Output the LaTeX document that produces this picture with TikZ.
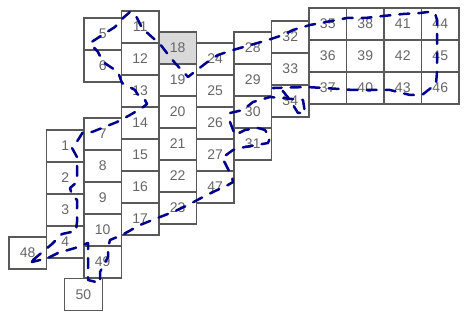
\documentclass[tikz,border=0pt]{standalone}
\usepackage{fontspec}
\setmainfont{Liberation Sans}

\begin{document}
\begin{tikzpicture}[x=1pt, y=-1pt,
    cell/.style={draw=black!65, line width=1.4pt, minimum width=37.5pt,
                 minimum height=32pt, inner sep=0pt, outer sep=0pt,
                 text=black!60, font=\fontsize{14}{16}\selectfont},
    route/.style={draw=blue!55!black, line width=2.5pt,
                  dash pattern=on 10pt off 9pt, line cap=round, line join=round}]
  \useasboundingbox (0,0) rectangle (466,323);
  % Left columns
  \node[cell] (c48) at (27.75,253) {48};
  \node[cell] (c1) at (65.25,146) {1};
  \node[cell] (c2) at (65.25,178) {2};
  \node[cell] (c3) at (65.25,210) {3};
  \node[cell] (c4) at (65.25,242) {4};
  \node[cell] (c5) at (102.75,34) {5};
  \node[cell] (c6) at (102.75,66) {6};
  \node[cell] (c7) at (102.75,134) {7};
  \node[cell] (c8) at (102.75,166) {8};
  \node[cell] (c9) at (102.75,198) {9};
  \node[cell] (c10) at (102.75,230) {10};
  \node[cell] (c49) at (102.75,262) {49};
  \node[cell] (c50) at (83.5,294.5) {50};
  % Middle columns
  \node[cell] (c11) at (140.25,27) {11};
  \node[cell] (c12) at (140.25,59) {12};
  \node[cell] (c13) at (140.25,91) {13};
  \node[cell] (c14) at (140.25,123) {14};
  \node[cell] (c15) at (140.25,155) {15};
  \node[cell] (c16) at (140.25,187) {16};
  \node[cell] (c17) at (140.25,219) {17};
  \node[cell, fill=black!15] (c18) at (177.75,48) {18};
  \node[cell] (c19) at (177.75,80) {19};
  \node[cell] (c20) at (177.75,112) {20};
  \node[cell] (c21) at (177.75,144) {21};
  \node[cell] (c22) at (177.75,176) {22};
  \node[cell] (c23) at (177.75,208) {23};
  \node[cell] (c24) at (215.25,59) {24};
  \node[cell] (c25) at (215.25,91) {25};
  \node[cell] (c26) at (215.25,123) {26};
  \node[cell] (c27) at (215.25,155) {27};
  \node[cell] (c47) at (215.25,187) {47};
  \node[cell] (c28) at (252.75,48) {28};
  \node[cell] (c29) at (252.75,80) {29};
  \node[cell] (c30) at (252.75,112) {30};
  \node[cell] (c31) at (252.75,144) {31};
  \node[cell] (c32) at (290.25,37) {32};
  \node[cell] (c33) at (290.25,69) {33};
  \node[cell] (c34) at (290.25,101) {34};
  % Right block
  \node[cell] (c35) at (327.75,24) {35};
  \node[cell] (c36) at (327.75,56) {36};
  \node[cell] (c37) at (327.75,88) {37};
  \node[cell] (c38) at (365.25,24) {38};
  \node[cell] (c39) at (365.25,56) {39};
  \node[cell] (c40) at (365.25,88) {40};
  \node[cell] (c41) at (402.75,24) {41};
  \node[cell] (c42) at (402.75,56) {42};
  \node[cell] (c43) at (402.75,88) {43};
  \node[cell] (c44) at (440.25,24) {44};
  \node[cell] (c45) at (440.25,56) {45};
  \node[cell] (c46) at (440.25,88) {46};
  % Route
  \draw[route] (33,260) -- (52,244) -- (62,234) -- (76,231) -- (77,222)
    -- (77,200) -- (72,195) -- (70,188) -- (77,182) -- (77,168) -- (77,157)
    -- (72,148) -- (78,140) -- (83,132) -- (92,132) -- (117,122) -- (130,115)
    -- (142,108) -- (147,104) -- (145,100) -- (138,95) -- (135,90)
    -- (122,83) -- (118,72) -- (103,62) -- (98,52) -- (90,43) -- (107,32)
    -- (115,27) -- (123,18) -- (130,12) -- (135,14) -- (142,28) -- (153,38)
    -- (160,44) -- (170,57) -- (175,63) -- (188,77) -- (197,70) -- (210,60)
    -- (218,55) -- (233,50) -- (268,40) -- (283,35) -- (293,30) -- (310,25)
    -- (347,18) -- (365,18) -- (383,16) -- (403,14) -- (420,13) -- (428,12)
    -- (435,13) -- (437,20) -- (437,72) -- (436,84) -- (422,95) -- (410,95)
    -- (390,90) -- (353,90) -- (340,89) -- (307,87) -- (273,88) -- (282,90)
    -- (290,100) -- (298,113) -- (305,113) -- (303,100) -- (270,97)
    -- (253,102) -- (243,110) -- (230,113) -- (230,122) -- (235,135)
    -- (245,130) -- (258,128) -- (265,130) -- (270,138) -- (268,143)
    -- (245,147) -- (233,150) -- (222,158) -- (225,163) -- (232,177)
    -- (233,182) -- (228,185) -- (213,192) -- (203,197) -- (188,205)
    -- (173,212) -- (160,217) -- (140,225) -- (122,235) -- (110,240)
    -- (108,248) -- (108,257) -- (100,272) -- (100,283) -- (88,280)
    -- (88,265) -- (88,243) -- (75,248) -- (58,253) -- (48,258) -- (32,262)
    -- cycle;
\end{tikzpicture}
\end{document}
